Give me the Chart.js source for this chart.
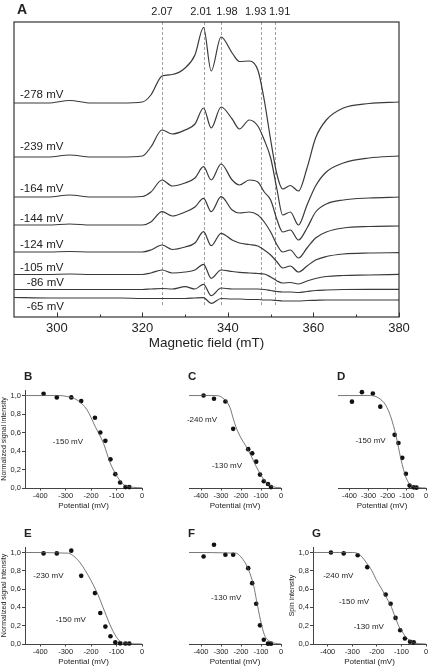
<!DOCTYPE html>
<html>
<head>
<meta charset="utf-8">
<script src="https://cdn.jsdelivr.net/npm/chart.js@4.4.1/dist/chart.umd.min.js"></script>
<style>
  body { margin: 0; background: #fff; width: 430px; height: 671px; position: relative; overflow: hidden; }
  canvas { position: absolute; }
</style>
</head>
<body>
<canvas id="chartA" style="left:0;top:0" width="430" height="351"></canvas>
<script>
// ---------- panel A : EPR spectra (arbitrary intensity, traces stacked) ----------
var fieldGrid = [290, 298, 303, 308, 315, 320, 322, 324.6, 327, 330, 332.3, 334.3, 336.1, 338.4, 341, 342.7, 345, 347, 348.5, 350, 351.5, 352.8, 354.6, 356.5, 358.5, 360.5, 363, 367, 373, 380];

var spec278 = [214, 214, 216.5, 214, 214, 215, 222, 241, 242.5, 249, 262, 289.5, 246, 280, 264, 255.5, 256, 247, 217, 177, 142, 128, 131.5, 126, 149, 179, 197, 209, 213.5, 215];
var spec239 = [160, 160, 162, 160, 160, 161, 170, 187, 183, 187, 193, 209, 189, 210, 198, 188, 197, 191, 177, 159, 127, 102, 105, 92, 112, 131, 145, 154, 159, 161];
var spec164 = [120, 120, 122, 120, 120, 120.5, 125, 137, 131, 134, 139, 150.3, 137, 153, 137, 132, 137, 135, 125, 117, 97, 85, 87, 77, 89, 105, 113, 117, 119, 120];
var spec144 = [92, 92, 93, 92, 92, 92, 95, 105.3, 101, 105, 110, 118.7, 105.3, 120.3, 107, 104, 105, 102, 95, 85, 72, 65, 67, 59, 69, 79, 85, 89, 90.5, 91];
var spec124 = [65, 65, 65.5, 65, 65, 65, 67, 72, 67.5, 70, 74, 85.3, 71.3, 83.7, 77, 74, 72.5, 71, 67, 62, 55, 49, 51, 45, 51, 57, 60.5, 63, 64, 64.3];
var spec105 = [42.5, 42.5, 43, 42.5, 42.5, 42.5, 44, 47, 44, 45, 47, 52.7, 38.7, 47, 45.5, 44.7, 44, 43.5, 43, 40, 36, 34, 34.5, 33, 36, 38.5, 40.5, 41.5, 42, 42.7];
var spec86 = [27.5, 27.5, 27.5, 27.5, 27.5, 27.5, 28, 28.5, 28, 30.3, 28, 32.7, 21.3, 29, 28, 28, 28, 28, 27.5, 26.5, 25.5, 25, 25, 24.5, 25.5, 26.5, 27, 27.5, 27.7, 27.7];
var spec65 = [19.5, 19, 19, 19, 19, 18.5, 18.5, 18.5, 18.5, 18.5, 19, 19.3, 13.7, 18.5, 18, 18, 17.5, 17.5, 17, 17, 16.5, 16, 16, 16, 16.5, 16.7, 17, 17, 17, 17];

var traceLabels = ['-278 mV', '-239 mV', '-164 mV', '-144 mV', '-124 mV', '-105 mV', '-86 mV', '-65 mV'];
var labelField = [291.4, 291.4, 291.4, 291.4, 291.4, 291.4, 293, 293];
var labelLevel = [222, 170.3, 128, 97.7, 72, 48.7, 33.7, 10.3];

var gValues = ['2.07', '2.01', '1.98', '1.93', '1.91'];
var gFields = [324.6, 334.3, 338.4, 347.7, 350.9];
var gLabelFields = [324.6, 333.7, 339.8, 346.5, 352.1];
var dashEnd = 10;

var fieldTicks = [300, 320, 340, 360, 380];
var fieldMinor = [310, 330, 350, 370];

// ---------- panels B-G : redox titrations ----------
var potentials = [-387, -335, -278, -239, -185, -164, -144, -124, -105, -86, -65, -50];
var ptsB = [1.02, 0.98, 0.98, 0.94, 0.76, 0.60, 0.51, 0.31, 0.15, 0.06, 0.01, 0.01];
var ptsC = [1.0, 0.965, 0.935, 0.64, null, 0.42, 0.375, 0.285, 0.145, 0.073, 0.044, 0.01];
var ptsD = [0.934, 1.037, 1.022, 0.88, null, 0.575, 0.487, 0.326, 0.154, 0.026, 0.007, 0.004];
var ptsE = [0.99, 0.99, 1.02, 0.745, 0.556, 0.338, 0.19, 0.084, 0.018, 0.007, 0.005, 0.005];
var ptsF = [0.956, 1.084, 0.975, 0.975, null, 0.829, 0.665, 0.44, 0.204, 0.047, 0.004, 0.004];
var ptsG = [1.0, 0.99, 0.97, 0.84, null, 0.54, 0.44, 0.285, 0.15, 0.06, 0.025, 0.018];

var fitBx = [-460, -330, -295, -256, -216, -184, -151, -125, -98, -72, -33, 0];
var fitBy = [1, 1, 0.99, 0.953, 0.845, 0.665, 0.48, 0.27, 0.126, 0.036, 0.007, 0.002];
var fitCx = [-460, -330, -295, -256, -236, -216, -164, -111, -72, -33, 0];
var fitCy = [1, 1, 0.98, 0.875, 0.73, 0.61, 0.41, 0.18, 0.054, 0.01, 0.002];
var fitDx = [-460, -291, -251, -211, -184, -157, -131, -104, -77, -37, 0];
var fitDy = [1, 1, 0.978, 0.897, 0.769, 0.568, 0.311, 0.11, 0.026, 0.004, 0];
var fitEx = [-460, -293, -253, -213, -173, -147, -120, -93, -67, -30, 0];
var fitEy = [1, 0.993, 0.92, 0.756, 0.538, 0.356, 0.175, 0.047, 0.011, 0.002, 0];
var fitFx = [-460, -228, -189, -162, -136, -123, -103, -83, -57, -17, 0];
var fitFy = [1, 0.993, 0.92, 0.81, 0.63, 0.484, 0.265, 0.10, 0.03, 0.004, 0];
var fitGx = [-460, -300, -281, -260, -242, -220, -203, -180, -164, -145, -125, -110, -99, -85, -73, -60, -47, -25, 0];
var fitGy = [1, 1, 0.993, 0.95, 0.885, 0.80, 0.704, 0.60, 0.52, 0.43, 0.29, 0.19, 0.144, 0.085, 0.054, 0.025, 0.011, 0.003, 0];

var potTicks = [-400, -300, -200, -100, 0];
var fracTicks = [0, 0.2, 0.4, 0.6, 0.8, 1.0];

var notesB = [{ text: '-150 mV', x: -291, y: 0.50 }];
var notesC = [{ text: '-240 mV', x: -395, y: 0.74 }, { text: '-130 mV', x: -270, y: 0.24 }];
var notesD = [{ text: '-150 mV', x: -290, y: 0.51 }];
var notesE = [{ text: '-230 mV', x: -368, y: 0.74 }, { text: '-150 mV', x: -280, y: 0.26 }];
var notesF = [{ text: '-130 mV', x: -274, y: 0.50 }];
var notesG = [{ text: '-240 mV', x: -357, y: 0.74 }, { text: '-150 mV', x: -293, y: 0.46 }, { text: '-130 mV', x: -233, y: 0.19 }];

var FONT = "'Liberation Sans', Arial, Helvetica, sans-serif";
var INK = '#222';

// ================= panel A =================
var spectra = [spec278, spec239, spec164, spec144, spec124, spec105, spec86, spec65];

function toXY(xs, ys) {
    var out = [];
    for (var i = 0; i < xs.length; i++) {
        if (ys[i] !== null) out.push({ x: xs[i], y: ys[i] });
    }
    return out;
}

var panelADecor = {
    id: 'panelADecor',
    beforeDatasetsDraw: function (chart) {
        var ctx = chart.ctx, a = chart.chartArea, x = chart.scales.x, y = chart.scales.y;
        ctx.save();
        ctx.strokeStyle = '#a0a0a0';
        ctx.lineWidth = 1;
        ctx.setLineDash([3, 2]);
        gFields.forEach(function (f) {
            var px = Math.round(x.getPixelForValue(f)) + 0.5;
            ctx.beginPath();
            ctx.moveTo(px, a.top);
            ctx.lineTo(px, y.getPixelForValue(dashEnd));
            ctx.stroke();
        });
        ctx.restore();
    },
    afterDraw: function (chart) {
        var ctx = chart.ctx, a = chart.chartArea, x = chart.scales.x, y = chart.scales.y;
        ctx.save();
        // frame
        ctx.strokeStyle = '#333';
        ctx.lineWidth = 1.2;
        ctx.strokeRect(a.left, a.top, a.right - a.left, a.bottom - a.top);
        // inner ticks
        ctx.lineWidth = 1;
        fieldTicks.forEach(function (v) {
            var px = Math.round(x.getPixelForValue(v)) + 0.5;
            ctx.beginPath(); ctx.moveTo(px, a.bottom); ctx.lineTo(px, a.bottom - 4.5); ctx.stroke();
        });
        fieldMinor.forEach(function (v) {
            var px = Math.round(x.getPixelForValue(v)) + 0.5;
            ctx.beginPath(); ctx.moveTo(px, a.bottom); ctx.lineTo(px, a.bottom - 2.5); ctx.stroke();
        });
        // g-value labels
        ctx.fillStyle = INK;
        ctx.font = '11px ' + FONT;
        ctx.textAlign = 'center';
        ctx.textBaseline = 'middle';
        gValues.forEach(function (t, i) {
            ctx.fillText(t, x.getPixelForValue(gLabelFields[i]), a.top - 10);
        });
        // trace labels
        ctx.font = '11.5px ' + FONT;
        ctx.textAlign = 'left';
        traceLabels.forEach(function (t, i) {
            ctx.fillText(t, x.getPixelForValue(labelField[i]), y.getPixelForValue(labelLevel[i]));
        });
        // panel letter
        ctx.font = 'bold 14px ' + FONT;
        ctx.fillText('A', a.left + 3, 10);
        ctx.restore();
    }
};

new Chart(document.getElementById('chartA').getContext('2d'), {
    type: 'line',
    data: {
        datasets: spectra.map(function (s) {
            return {
                data: toXY(fieldGrid, s),
                borderColor: '#3a3a3a',
                borderWidth: 1.2,
                pointRadius: 0,
                fill: false,
                cubicInterpolationMode: 'monotone'
            };
        })
    },
    options: {
        responsive: false,
        animation: false,
        layout: { padding: { left: 14, top: 22, right: 31, bottom: 0 } },
        plugins: { legend: { display: false }, tooltip: { enabled: false } },
        scales: {
            x: {
                type: 'linear',
                min: 290,
                max: 380,
                afterBuildTicks: function (s) { s.ticks = fieldTicks.map(function (v) { return { value: v }; }); },
                afterFit: function (s) { s.height = 34; s.paddingLeft = 0; s.paddingRight = 0; },
                grid: { display: false, drawTicks: false },
                border: { display: false },
                ticks: { font: { size: 13, family: FONT }, color: INK, padding: 4, maxRotation: 0, autoSkip: false },
                title: { display: true, text: 'Magnetic field (mT)', font: { size: 13.5, family: FONT }, color: INK, padding: { top: 0, bottom: 0 } }
            },
            y: { display: false, min: 0, max: 295 }
        }
    },
    plugins: [panelADecor]
});

// ================= panels B-G =================
var panels = [
    { letter: 'B', pts: ptsB, fx: fitBx, fy: fitBy, notes: notesB, yTitle: 'Normalized signal intensity', left: 0, top: 370, areaH: 98, right: 10 },
    { letter: 'C', pts: ptsC, fx: fitCx, fy: fitCy, notes: notesC, yTitle: null, left: 139, top: 370, areaH: 98, right: 10 },
    { letter: 'D', pts: ptsD, fx: fitDx, fy: fitDy, notes: notesD, yTitle: null, left: 288, top: 370, areaH: 98, right: 0 },
    { letter: 'E', pts: ptsE, fx: fitEx, fy: fitEy, notes: notesE, yTitle: 'Normalized signal intensity', left: 0, top: 527, areaH: 97, right: 10 },
    { letter: 'F', pts: ptsF, fx: fitFx, fy: fitFy, notes: notesF, yTitle: null, left: 139, top: 527, areaH: 97, right: 10 },
    { letter: 'G', pts: ptsG, fx: fitGx, fy: fitGy, notes: notesG, yTitle: 'Spin intensity', left: 288, top: 527, areaH: 97, right: 0 }
];

var panelDecor = {
    id: 'panelDecor',
    afterDraw: function (chart) {
        var p = chart.config.options.panel;
        var ctx = chart.ctx, a = chart.chartArea, x = chart.scales.x, y = chart.scales.y;
        ctx.save();
        ctx.fillStyle = INK;
        ctx.font = 'bold 11.5px ' + FONT;
        ctx.textAlign = 'left';
        ctx.textBaseline = 'middle';
        ctx.fillText(p.letter, a.left - 1, a.top - 13);
        ctx.font = '8px ' + FONT;
        ctx.textAlign = 'center';
        p.notes.forEach(function (n) {
            ctx.fillText(n.text, x.getPixelForValue(n.x), y.getPixelForValue(n.y));
        });
        ctx.restore();
    }
};

panels.forEach(function (p) {
    var showY = p.yTitle !== null;
    var cv = document.createElement('canvas');
    var w = 25 + 117 + p.right;
    var h = 20 + p.areaH + 23;
    cv.width = w;
    cv.height = h;
    cv.style.left = p.left + 'px';
    cv.style.top = p.top + 'px';
    document.body.appendChild(cv);

    new Chart(cv.getContext('2d'), {
        type: 'scatter',
        data: {
            datasets: [
                {
                    type: 'line',
                    data: toXY(p.fx, p.fy),
                    borderColor: '#555',
                    borderWidth: 0.8,
                    pointRadius: 0,
                    fill: false,
                    cubicInterpolationMode: 'monotone'
                },
                {
                    data: toXY(potentials, p.pts),
                    backgroundColor: '#111',
                    borderWidth: 0,
                    pointRadius: 2.3,
                    clip: false
                }
            ]
        },
        options: {
            panel: p,
            responsive: false,
            animation: false,
            layout: { padding: { left: showY ? 0 : 25, top: 20, right: p.right, bottom: 0 } },
            plugins: { legend: { display: false }, tooltip: { enabled: false } },
            scales: {
                x: {
                    type: 'linear',
                    min: -460,
                    max: 0,
                    afterBuildTicks: function (s) { s.ticks = potTicks.map(function (v) { return { value: v }; }); },
                    afterFit: function (s) { s.height = 23; s.paddingLeft = 0; s.paddingRight = 0; },
                    grid: { drawOnChartArea: false, tickLength: 2.5, color: '#444' },
                    border: { color: '#444', width: 1 },
                    ticks: { font: { size: 7.5, family: FONT }, color: INK, padding: 1, maxRotation: 0, autoSkip: false },
                    title: { display: true, text: 'Potential (mV)', font: { size: 8, family: FONT }, color: INK, padding: { top: 0, bottom: 0 } }
                },
                y: {
                    display: showY,
                    min: 0,
                    max: 1.06,
                    afterBuildTicks: function (s) { s.ticks = fracTicks.map(function (v) { return { value: v }; }); },
                    afterFit: function (s) { s.width = 25; s.paddingTop = 0; s.paddingBottom = 0; },
                    grid: { drawOnChartArea: false, tickLength: 3, color: '#444' },
                    border: { color: '#444', width: 1 },
                    ticks: {
                        font: { size: 7.5, family: FONT }, color: INK, padding: 1, autoSkip: false,
                        callback: function (v) { return v.toFixed(1).replace('.', ','); }
                    },
                    title: { display: showY, text: p.yTitle || '', font: { size: 7, family: FONT }, color: INK, padding: 0 }
                }
            }
        },
        plugins: [panelDecor]
    });
});
</script>
</body>
</html>
